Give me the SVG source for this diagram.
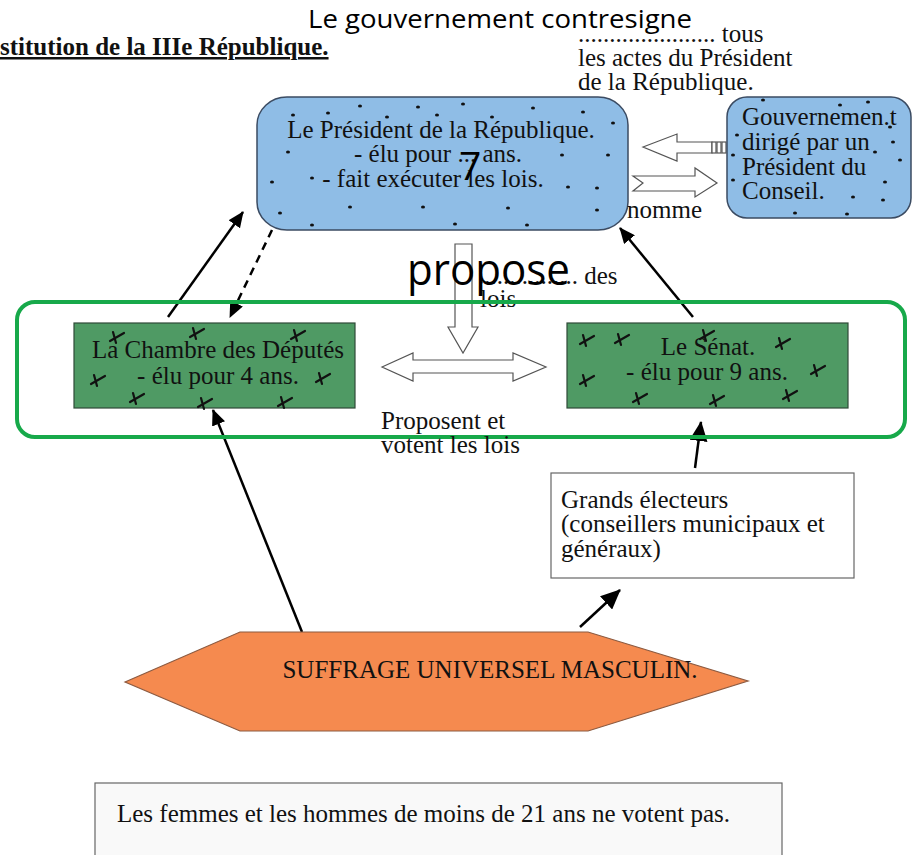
<svg xmlns="http://www.w3.org/2000/svg" width="912" height="855" viewBox="0 0 912 855">
<style>
.serif{font-family:"Liberation Serif","Times New Roman",serif;font-size:25px;fill:#111}
.sans{font-family:"Open Sans","Liberation Sans",sans-serif;fill:#000}
.blue{fill:#8fbde6;stroke:#3b4b62;stroke-width:1.5}
.green{fill:#4f9a64;stroke:#2f4a37;stroke-width:1.2}
.block{fill:#fff;stroke:#555;stroke-width:1.2}
.conn{stroke:#000;stroke-width:2.5;fill:none}
.dot{fill:#111}
.mk{stroke:#111;stroke-width:2.2;fill:none;stroke-linecap:round}
</style>
<defs>
<marker id="ah" markerUnits="userSpaceOnUse" markerWidth="16" markerHeight="14" refX="15" refY="7" orient="auto">
<path d="M0,0 L16,7 L0,14 z" fill="#000"/>
</marker>
<marker id="ahb" markerUnits="userSpaceOnUse" markerWidth="20" markerHeight="18" refX="19" refY="9" orient="auto">
<path d="M0,0 L20,9 L0,18 z" fill="#000"/>
</marker>
<path id="x" d="M-7,4 L7,-4 M-4,-5 L-1,6"/>
<ellipse id="d" rx="2" ry="1.5"/>
</defs>
<rect width="912" height="855" fill="#fff"/>

<g id="title">
<text class="serif" x="0" y="55" font-weight="bold" text-decoration="underline">stitution de la IIIe République.</text>
</g>

<g id="contresigne">
<text class="sans" x="308" y="28" font-size="25" textLength="384" lengthAdjust="spacingAndGlyphs">Le gouvernement contresigne</text>
<text class="serif" x="578" y="42">...................... tous</text>
<text class="serif" x="578" y="66">les actes du Président</text>
<text class="serif" x="578" y="90">de la République.</text>
</g>

<g id="propose-label">
<text class="serif" x="478" y="284">................ des</text>
<text class="serif" x="480" y="307">lois</text>
</g>

<g id="connectors">
<polygon class="block" points="455,244 472,244 472,327 478,327 463,353 448,327 455,327"/>
<polygon class="block" points="382,367 413,353 413,360 513,360 513,353 546,367 513,381 513,373 413,373 413,381"/>
<polygon class="block" points="643,147 677,134 677,142 712,142 712,153 677,153 677,161"/>
<rect class="block" x="712" y="142" width="4" height="11"/>
<rect class="block" x="717" y="142" width="4" height="11"/>
<rect class="block" x="722" y="142" width="4" height="11"/>
<polygon class="block" points="633,176 695,176 695,168 717,183 695,197 695,191 633,191 643,183"/>
<line class="conn" x1="168" y1="317" x2="243" y2="212" marker-end="url(#ah)"/>
<line class="conn" x1="272" y1="230" x2="230" y2="317" stroke-dasharray="8,6" stroke-width="2" marker-end="url(#ah)"/>
<line class="conn" x1="693" y1="317" x2="620" y2="228" marker-end="url(#ah)"/>
<line class="conn" x1="302" y1="632" x2="213" y2="410" marker-end="url(#ah)"/>
<line class="conn" x1="695" y1="468" x2="701" y2="422" stroke-width="4" marker-end="url(#ahb)"/>
<line class="conn" x1="580" y1="627" x2="620" y2="590" stroke-width="3.5" marker-end="url(#ahb)"/>
</g>

<g id="president">
<rect class="blue" x="257" y="97" width="371" height="133" rx="30" ry="28"/>
<g class="dot">
<use href="#d" x="360" y="106"/><use href="#d" x="418" y="107"/><use href="#d" x="463" y="104"/><use href="#d" x="533" y="108"/>
<use href="#d" x="293" y="115"/><use href="#d" x="328" y="113"/><use href="#d" x="387" y="117"/><use href="#d" x="437" y="115"/>
<use href="#d" x="492" y="117"/><use href="#d" x="583" y="112"/><use href="#d" x="613" y="123"/>
<use href="#d" x="288" y="152"/><use href="#d" x="562" y="155"/><use href="#d" x="608" y="155"/>
<use href="#d" x="272" y="182"/><use href="#d" x="312" y="178"/><use href="#d" x="568" y="187"/><use href="#d" x="597" y="188"/>
<use href="#d" x="280" y="213"/><use href="#d" x="350" y="207"/><use href="#d" x="423" y="207"/><use href="#d" x="508" y="208"/>
<use href="#d" x="597" y="210"/><use href="#d" x="312" y="225"/><use href="#d" x="455" y="224"/><use href="#d" x="527" y="225"/>
</g>
<text class="serif" x="441" y="138" text-anchor="middle">Le Président de la République.</text>
<text class="serif" x="438" y="162" text-anchor="middle">- élu pour ... ans.</text>
<text class="serif" x="433" y="187" text-anchor="middle">- fait exécuter les lois.</text>
<text class="sans" x="459" y="180" font-size="39">7</text>
</g>

<g id="gouvernement">
<rect class="blue" x="727" y="97" width="184" height="121" rx="20" ry="20"/>
<g class="dot">
<use href="#d" x="763" y="100"/><use href="#d" x="840" y="105"/><use href="#d" x="868" y="102"/><use href="#d" x="737" y="135"/>
<use href="#d" x="890" y="127"/><use href="#d" x="893" y="142"/><use href="#d" x="733" y="155"/><use href="#d" x="875" y="152"/>
<use href="#d" x="900" y="160"/><use href="#d" x="733" y="180"/><use href="#d" x="885" y="182"/><use href="#d" x="853" y="197"/>
<use href="#d" x="883" y="200"/><use href="#d" x="795" y="213"/><use href="#d" x="847" y="214"/>
</g>
<text class="serif" x="742" y="125">Gouvernemen.t</text>
<text class="serif" x="742" y="150">dirigé par un</text>
<text class="serif" x="742" y="175">Président du</text>
<text class="serif" x="742" y="199">Conseil.</text>
</g>

<g id="nomme"><text class="serif" x="627" y="218">nomme</text></g>

<g id="propose"><text class="sans" x="407" y="285" font-size="43" textLength="163" lengthAdjust="spacingAndGlyphs">propose</text></g>

<g id="chambre">
<rect class="green" x="74" y="323" width="281" height="85"/>
<g class="mk">
<use href="#x" x="117" y="337"/><use href="#x" x="197" y="333"/><use href="#x" x="298" y="335"/><use href="#x" x="98" y="380"/>
<use href="#x" x="323" y="378"/><use href="#x" x="137" y="398"/><use href="#x" x="205" y="403"/><use href="#x" x="285" y="402"/>
</g>
<text class="serif" x="218" y="358" text-anchor="middle">La Chambre des Députés</text>
<text class="serif" x="218" y="384" text-anchor="middle">- élu pour 4 ans.</text>
</g>

<g id="senat">
<rect class="green" x="567" y="323" width="281" height="85"/>
<g class="mk">
<use href="#x" x="587" y="340"/><use href="#x" x="622" y="339"/><use href="#x" x="707" y="335"/><use href="#x" x="783" y="343"/>
<use href="#x" x="587" y="380"/><use href="#x" x="818" y="370"/><use href="#x" x="640" y="398"/><use href="#x" x="717" y="400"/><use href="#x" x="790" y="395"/>
</g>
<text class="serif" x="708" y="355" text-anchor="middle">Le Sénat.</text>
<text class="serif" x="707" y="380" text-anchor="middle">- élu pour 9 ans.</text>
</g>

<g id="parlement">
<rect x="17" y="302" width="888" height="135" rx="18" ry="18" fill="none" stroke="#17a94a" stroke-width="4"/>
</g>

<g id="proposent">
<text class="serif" x="381" y="429">Proposent et</text>
<text class="serif" x="381" y="453">votent les lois</text>
</g>

<g id="grands-electeurs">
<rect x="551" y="473" width="303" height="105" fill="#fff" stroke="#666" stroke-width="1.2"/>
<text class="serif" x="561" y="508">Grands électeurs</text>
<text class="serif" x="561" y="532">(conseillers municipaux et</text>
<text class="serif" x="561" y="557">généraux)</text>
</g>

<g id="suffrage">
<polygon points="125,682 240,632 588,632 748,681 588,731 240,731" fill="#f58a4f" stroke="#8c5a40" stroke-width="1.2"/>
<text class="serif" x="490" y="678" text-anchor="middle">SUFFRAGE UNIVERSEL MASCULIN.</text>
</g>

<g id="femmes">
<rect x="95" y="783" width="687" height="80" fill="#f9f9f9" stroke="#666" stroke-width="1.2"/>
<text class="serif" x="117" y="822">Les femmes et les hommes de moins de 21 ans ne votent pas.</text>
</g>
</svg>
